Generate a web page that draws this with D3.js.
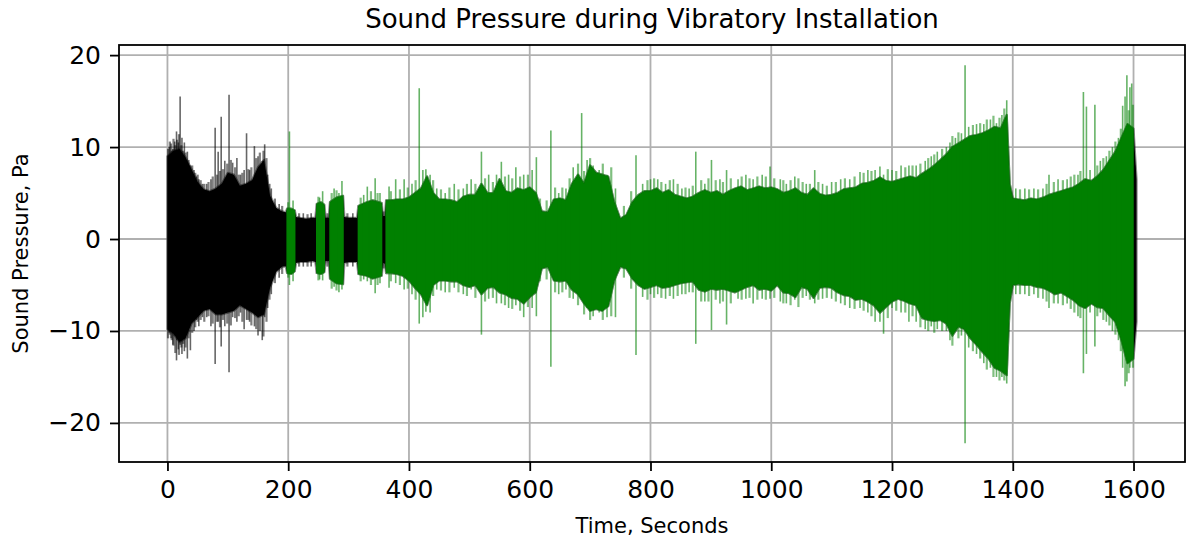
<!DOCTYPE html>
<html><head><meta charset="utf-8">
<script src="https://cdn.jsdelivr.net/npm/d3@7"></script>
<style>body{margin:0;background:#fff} svg{display:block} text{font-family:"DejaVu Sans",sans-serif}</style>
</head><body>
<svg id="chart" width="1191" height="545"></svg>
<script>
// ---------- data ----------
const title = "Sound Pressure during Vibratory Installation";
const xLabel = "Time, Seconds";
const yLabel = "Sound Pressure, Pa";
const xTicks = [0, 200, 400, 600, 800, 1000, 1200, 1400, 1600];
const yTicks = [-20, -10, 0, 10, 20];

// dense envelope of the recorded signal (seconds, Pa)
const times = [
  0,10,20,30,40,50,60,70,80,90,
  100,110,120,130,140,150,160,170,180,190,
  196,198,205,211,213,220,230,240,245,247,
  254,260,262,267,269,280,291,293,300,314,
  316,330,340,355,357,360,362,370,380,390,
  400,410,420,430,440,450,460,470,480,490,
  500,510,520,530,540,550,560,570,580,590,
  600,610,620,630,640,650,660,670,680,690,
  700,710,720,730,740,750,760,770,780,790,
  800,810,820,830,840,850,860,870,880,890,
  900,910,920,930,940,950,960,970,980,990,
  1000,1010,1020,1030,1040,1050,1060,1070,1080,1090,
  1100,1110,1120,1130,1140,1150,1160,1170,1180,1190,
  1200,1210,1220,1230,1240,1250,1260,1270,1280,1290,
  1300,1310,1320,1330,1340,1350,1360,1370,1380,1390,
  1395,
  1400,1410,1420,1430,1440,1450,1460,1470,1480,1490,
  1500,1510,1520,1530,1540,1550,1560,1570,1580,1590,
  1600,1605
];
const upper = [
  9.0,9.6,9.8,8.9,7.6,6.2,5.4,5.2,5.5,6.0,
  7.2,7.0,5.8,6.0,6.4,7.8,8.6,4.7,3.4,3.0,
  2.9,3.3,3.3,3.1,2.4,2.3,2.2,2.3,2.3,3.8,
  4.0,3.7,2.3,2.3,4.0,4.5,4.7,2.4,2.3,2.3,
  3.6,4.0,4.2,3.9,2.5,2.5,4.2,4.2,4.3,4.3,
  4.5,5.0,5.5,6.8,5.0,4.3,4.3,4.2,4.0,4.6,
  4.8,4.8,6.0,5.0,5.0,6.5,5.2,5.0,5.5,5.3,
  5.6,5.0,3.0,2.9,4.3,4.4,4.2,6.0,7.0,6.0,
  8.0,7.2,7.0,6.8,4.0,2.2,2.6,4.0,4.8,5.2,
  5.2,5.5,5.0,5.3,4.8,4.6,4.4,4.6,5.0,5.3,
  5.0,5.2,4.8,5.2,5.5,5.7,5.3,5.5,5.7,5.5,
  5.6,5.4,5.0,5.2,5.5,5.0,4.8,5.5,4.9,4.7,
  4.8,5.0,5.4,5.5,5.6,6.0,6.1,6.3,6.7,6.3,
  6.2,6.4,6.6,6.8,6.6,7.1,7.5,8.0,8.6,9.2,
  10.0,10.4,10.8,11.2,11.3,11.5,11.8,12.2,12.0,13.5,
  6.0,
  4.4,4.3,4.2,4.4,4.3,4.5,4.8,5.0,5.2,5.4,
  5.6,6.0,6.5,6.3,6.8,7.5,8.5,9.5,11.0,12.5,
  12.0,6.5
];
const lower = [
  -9.8,-10.3,-11.2,-10.8,-9.2,-8.5,-7.8,-7.6,-8.2,-8.2,
  -8.0,-7.8,-7.2,-7.6,-8.0,-8.5,-8.2,-5.3,-3.6,-3.0,
  -3.0,-3.7,-3.8,-3.5,-2.6,-2.5,-2.5,-2.4,-2.5,-3.7,
  -3.8,-3.6,-2.4,-2.4,-4.3,-4.8,-4.9,-2.6,-2.5,-2.5,
  -3.8,-4.0,-4.3,-4.0,-2.6,-2.7,-3.7,-3.7,-3.8,-4.0,
  -4.5,-5.3,-6.0,-7.2,-5.0,-4.5,-4.5,-4.6,-4.6,-5.0,
  -5.2,-5.0,-6.0,-5.3,-5.2,-5.8,-6.0,-6.4,-6.5,-7.0,
  -6.3,-5.8,-3.2,-3.0,-4.5,-4.6,-4.5,-5.5,-6.0,-7.0,
  -7.8,-7.6,-7.8,-7.3,-4.5,-3.0,-3.2,-4.3,-5.0,-5.4,
  -5.2,-5.0,-5.3,-5.2,-5.0,-4.8,-4.7,-4.6,-5.5,-5.7,
  -5.4,-5.5,-5.4,-5.6,-5.8,-5.5,-5.2,-5.0,-5.5,-5.4,
  -5.6,-5.0,-5.8,-5.9,-6.3,-5.2,-5.4,-6.4,-5.3,-5.2,
  -5.3,-5.8,-6.1,-6.2,-6.6,-6.5,-6.8,-7.2,-8.0,-7.4,
  -6.8,-6.5,-6.7,-7.0,-7.2,-8.6,-8.8,-8.9,-8.8,-9.2,
  -10.5,-9.5,-9.8,-10.8,-11.5,-12.3,-13.0,-14.0,-14.3,-14.8,
  -7.0,
  -5.0,-4.9,-5.0,-5.0,-5.2,-5.3,-5.6,-6.0,-5.8,-6.2,
  -6.6,-7.2,-7.5,-7.0,-7.4,-7.5,-8.3,-9.0,-11.0,-13.5,
  -13.0,-9.0
];

// tall individual peaks sticking out of the envelope
const spikeT = [
  3,6,9,12,15,18,21,24,28,33,38,44,48,52,58,65,72,79,84,89,95,102,108,115,121,127,131,136,144,150,157,161,166,172,185,
  202,208,225,238,252,257,276,284,289,307,325,331,344,352,
  367,378,392,405,417,423,428,435,446,460,475,490,503,520,532,545,553,565,577,590,604,611,635,648,660,672,686,695,705,715,728,742,
  776,787,800,812,825,838,852,864,875,890,901,915,926,945,958,970,985,998,
  1015,1025,1039,1058,1072,1085,1100,1115,1130,1147,1160,1172,1180,1186,1200,1215,1228,1240,1255,1265,1275,1290,1296,
  1305,1315,1321,1327,1340,1352,1363,1373,1382,1390,
  1405,1420,1435,1450,1460,1475,1490,1508,1517,1522,1528,1536,1545,1555,1565,1575,1582,1586,1589,1594,1597,1602
];
const spikeHi = [
  10.0,10.4,9.8,10.6,11.7,10.5,15.5,11.0,10.5,9.5,8.0,7.5,6.8,6.5,6.0,6.0,6.5,12.1,9.5,13.3,8.5,15.7,8.3,8.8,7.0,7.5,11.5,7.5,10.1,9.0,8.5,10.3,7.0,5.5,3.8,
  11.7,4.2,2.8,2.8,4.5,5.2,5.5,5.0,6.3,2.8,4.8,5.7,6.6,5.0,
  5.7,6.5,6.5,6.0,16.4,7.5,7.6,7.0,5.5,5.0,6.0,5.5,6.5,9.5,7.0,7.0,8.4,7.0,7.8,7.0,7.5,8.9,11.8,5.0,5.5,7.8,13.7,8.6,8.0,7.5,7.0,5.5,
  9.1,6.0,6.5,6.5,6.0,6.5,5.5,5.5,9.5,6.0,8.6,6.5,7.5,6.5,7.0,6.5,7.0,7.9,
  6.5,6.0,6.8,6.0,7.5,6.0,6.2,6.5,6.5,7.3,7.5,7.5,7.9,7.0,7.5,8.0,8.0,8.0,8.5,9.0,9.5,10.0,10.5,
  11.0,11.5,18.9,12.2,12.5,12.5,13.0,12.6,13.5,15.1,
  5.5,5.5,5.5,5.5,7.0,6.5,6.5,7.0,16.0,14.4,7.5,14.6,8.5,9.0,10.0,11.0,14.5,15.5,17.8,16.5,16.9,8.0
];
const spikeLo = [
  -10.2,-10.8,-11.5,-10.5,-13.2,-12.0,-11.5,-12.5,-12.2,-13.0,-12.1,-10.0,-8.8,-9.5,-8.5,-8.5,-9.5,-13.6,-9.0,-11.7,-9.5,-14.5,-8.5,-9.0,-8.0,-9.8,-8.8,-9.0,-9.5,-10.5,-11.0,-8.5,-7.5,-6.0,-4.2,
  -5.0,-4.6,-3.0,-3.0,-4.4,-4.5,-5.2,-5.8,-5.5,-3.0,-4.4,-4.6,-5.9,-4.8,
  -5.3,-4.8,-5.5,-6.0,-9.2,-8.5,-7.9,-8.0,-5.5,-5.8,-5.3,-6.0,-5.5,-10.4,-6.5,-7.0,-7.0,-7.5,-7.2,-8.5,-7.5,-8.4,-13.9,-6.0,-5.5,-6.5,-6.5,-7.5,-8.4,-8.0,-8.5,-8.5,
  -12.6,-6.3,-6.0,-6.0,-6.5,-6.5,-6.0,-5.8,-11.4,-6.8,-9.9,-7.0,-9.3,-6.5,-6.5,-7.0,-6.5,-6.5,
  -6.8,-7.0,-6.6,-6.2,-7.0,-6.5,-6.5,-7.0,-7.5,-7.5,-8.0,-9.0,-9.0,-10.3,-7.5,-8.0,-9.0,-9.0,-9.8,-9.5,-9.8,-10.0,-11.0,
  -10.0,-10.5,-22.2,-11.8,-12.5,-13.5,-14.0,-15.0,-15.0,-15.7,
  -6.0,-6.0,-6.0,-6.5,-7.5,-7.0,-7.0,-8.4,-14.6,-12.5,-8.0,-11.7,-8.0,-9.0,-10.0,-11.0,-14.0,-16.0,-15.5,-14.0,-12.0,-10.0
];

// shorter ragged edge of the envelope
const fringeT = [
  1,4,7,10,13,16,19,23,26,30,35,41,46,50,55,61,68,75,82,87,92,99,105,112,118,124,134,139,147,153,159,164,169,178,190,
  200,218,232,250,265,272,280,298,320,337,348,358,
  370,385,398,411,440,453,467,482,496,510,526,539,559,571,584,597,617,628,642,654,666,680,690,700,721,735,756,768,
  795,806,818,832,845,858,870,884,896,908,920,933,951,964,977,991,
  1005,1020,1032,1045,1052,1064,1078,1092,1107,1122,1138,1153,1166,1193,1207,1222,1234,1247,1260,1270,1283,
  1300,1310,1334,1346,1357,1368,1378,1386,
  1412,1427,1442,1456,1468,1483,1496,1502,1512,1540,1550,1560,1570,1579,1592,1599
];
const fringeHi = [
  9.8,10.6,9.6,10.9,10.2,10.8,11.4,10.2,9.6,9.4,8.6,8.0,7.2,7.0,6.4,6.0,6.2,6.8,7.0,7.4,7.6,8.2,8.6,7.8,7.0,7.2,7.6,7.8,8.8,9.4,9.6,8.8,6.0,4.4,3.6,
  4.0,2.8,2.7,4.6,2.8,5.0,5.3,2.8,4.5,5.2,5.0,3.0,
  5.2,5.4,5.6,6.4,6.4,5.4,5.6,5.4,6.0,6.0,6.6,6.2,6.8,6.6,6.8,7.0,4.4,4.2,5.6,5.6,6.6,8.2,7.4,8.8,8.2,7.8,3.6,5.2,
  6.4,6.6,6.2,6.4,6.0,5.6,5.8,6.4,6.6,6.4,6.2,6.6,6.8,6.6,6.8,6.8,
  6.6,6.4,6.4,6.6,6.2,6.0,6.2,5.8,6.2,6.6,6.8,7.2,7.4,7.6,7.4,7.8,8.0,8.2,8.8,9.2,9.8,
  11.2,11.6,12.4,12.6,13.0,13.4,13.2,14.2,
  5.4,5.4,5.4,6.0,6.2,6.4,6.8,7.0,7.4,8.0,8.8,9.6,10.6,12.0,14.0,14.6
];
const fringeLo = [
  -10.8,-10.4,-11.0,-11.6,-12.4,-11.0,-12.6,-11.8,-11.4,-11.8,-10.8,-10.2,-9.6,-9.0,-8.8,-9.0,-8.4,-9.2,-9.0,-9.6,-8.8,-9.2,-9.4,-8.6,-8.4,-9.0,-8.8,-9.4,-9.8,-10.0,-10.6,-9.0,-6.6,-4.8,-3.8,
  -4.2,-3.0,-3.0,-4.5,-3.0,-5.4,-5.6,-3.0,-4.6,-5.0,-5.0,-3.2,
  -4.6,-5.0,-5.4,-6.6,-6.2,-5.6,-5.8,-5.8,-6.2,-6.4,-6.8,-6.4,-7.2,-7.6,-7.8,-7.4,-4.6,-4.4,-5.8,-5.8,-6.4,-7.2,-8.2,-8.8,-8.8,-8.4,-4.2,-5.4,
  -6.6,-6.4,-6.4,-6.2,-6.2,-6.0,-5.8,-6.8,-6.8,-6.6,-6.8,-7.0,-6.6,-6.4,-6.6,-6.6,
  -6.4,-7.0,-7.2,-7.4,-6.4,-6.6,-6.6,-6.4,-6.8,-7.2,-7.6,-7.8,-8.4,-8.6,-7.8,-8.0,-8.4,-9.6,-10.0,-10.2,-10.0,
  -11.6,-10.8,-12.2,-13.0,-14.2,-15.0,-15.4,-15.4,
  -6.0,-6.2,-6.4,-6.8,-7.0,-7.2,-7.6,-8.0,-8.6,-8.4,-8.8,-9.4,-10.4,-12.2,-14.6,-14.0
];

// time spans drawn in green (the rest of the record is black)
const greenStart = [197, 246, 268, 315, 361];
const greenEnd   = [212, 261, 292, 356, 1600];
const colBlack = "#000000", colGreen = "#008000", colGrid = "#b0b0b0";

// ---------- chart ----------
const svg = d3.select("#chart");
const x = d3.scaleLinear().domain([-80.25, 1685.25]).range([119, 1185]);
const y = d3.scaleLinear().domain([-24.25, 21.1]).range([462, 45]);
const [X0, X1] = x.range();
const [Y1, Y0] = y.range();

// grid
const grid = svg.append("g");
grid.selectAll("line.gx").data(xTicks).join("line").attr("class","gx")
  .attr("x1", d => x(d)).attr("x2", d => x(d)).attr("y1", Y0).attr("y2", Y1)
  .attr("stroke", colGrid).attr("stroke-width", 1.8);
grid.selectAll("line.gy").data(yTicks).join("line").attr("class","gy")
  .attr("y1", d => y(d)).attr("y2", d => y(d)).attr("x1", X0).attr("x2", X1)
  .attr("stroke", colGrid).attr("stroke-width", 1.8);

// clips
const defs = svg.append("defs");
defs.append("clipPath").attr("id", "greenClip").selectAll("rect")
  .data(d3.range(greenStart.length)).join("rect")
  .attr("x", i => x(greenStart[i])).attr("width", i => x(greenEnd[i]) - x(greenStart[i]))
  .attr("y", Y0).attr("height", Y1 - Y0);
defs.append("clipPath").attr("id", "plotClip").append("rect")
  .attr("x", X0).attr("y", Y0).attr("width", X1 - X0).attr("height", Y1 - Y0);

const idx = d3.range(times.length);
const area = d3.area().x(i => x(times[i])).y0(i => y(lower[i])).y1(i => y(upper[i]));
const isGreen = t => greenStart.some((s, k) => t >= s && t <= greenEnd[k]);

const plot = svg.append("g").attr("clip-path", "url(#plotClip)");

function drawLayer(g, color, clip) {
  const layer = g.append("g");
  if (clip) layer.attr("clip-path", clip);
  layer.append("path").datum(idx).attr("d", area).attr("fill", color)
    .attr("stroke", color).attr("stroke-width", 2.2).attr("stroke-opacity", 0.45)
    .attr("stroke-linejoin", "round");
}
drawLayer(plot, colBlack, null);
drawLayer(plot, colGreen, "url(#greenClip)");

// ragged edge and peaks
const fIdx = d3.range(fringeT.length);
plot.selectAll("line.fringe").data(fIdx).join("line").attr("class", "fringe")
  .attr("x1", i => x(fringeT[i])).attr("x2", i => x(fringeT[i]))
  .attr("y1", i => y(fringeLo[i])).attr("y2", i => y(fringeHi[i]))
  .attr("stroke", i => isGreen(fringeT[i]) ? colGreen : colBlack)
  .attr("stroke-width", 2.2).attr("stroke-opacity", 0.5);
const sIdx = d3.range(spikeT.length);
plot.selectAll("line.spike").data(sIdx).join("line").attr("class", "spike")
  .attr("x1", i => x(spikeT[i])).attr("x2", i => x(spikeT[i]))
  .attr("y1", i => y(spikeLo[i])).attr("y2", i => y(spikeHi[i]))
  .attr("stroke", i => isGreen(spikeT[i]) ? colGreen : colBlack)
  .attr("stroke-width", 1.6).attr("stroke-opacity", 0.6);

// axes
const xAxis = d3.axisBottom(x).tickValues(xTicks).tickSize(9).tickPadding(9).tickFormat(d3.format("d"));
const yAxis = d3.axisLeft(y).tickValues(yTicks).tickSize(9).tickPadding(9).tickFormat(d3.format("d"));
const gx = svg.append("g").attr("transform", `translate(0,${Y1})`).call(xAxis);
const gy = svg.append("g").attr("transform", `translate(${X0},0)`).call(yAxis);
[gx, gy].forEach(g => {
  g.select(".domain").remove();
  g.selectAll(".tick line").attr("stroke", "#000").attr("stroke-width", 1.8);
  g.selectAll(".tick text").attr("fill", "#000").style("font-size", "25px")
    .style("font-family", "'DejaVu Sans', sans-serif");
});

// frame
svg.append("rect").attr("x", X0).attr("y", Y0).attr("width", X1 - X0).attr("height", Y1 - Y0)
  .attr("fill", "none").attr("stroke", "#000").attr("stroke-width", 1.8);

// texts
svg.append("text").attr("x", (X0 + X1) / 2).attr("y", 28).attr("text-anchor", "middle")
  .style("font-size", "26px").attr("fill", "#000").text(title);
svg.append("text").attr("x", (X0 + X1) / 2).attr("y", 533).attr("text-anchor", "middle")
  .style("font-size", "21px").attr("fill", "#000").text(xLabel);
svg.append("text").attr("transform", `translate(28,${(Y0 + Y1) / 2}) rotate(-90)`)
  .attr("text-anchor", "middle").style("font-size", "21px").attr("fill", "#000").text(yLabel);
</script>
</body></html>
